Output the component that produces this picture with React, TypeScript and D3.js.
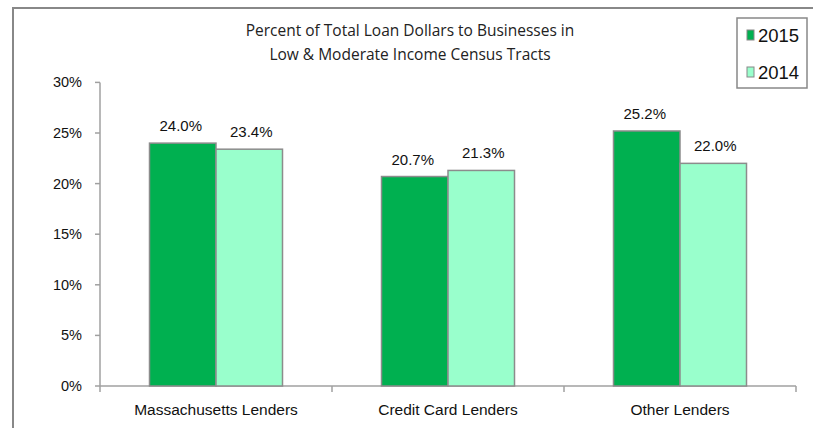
import React from "react";
import * as d3 from "d3";

const categories = ["Massachusetts Lenders", "Credit Card Lenders", "Other Lenders"];
const seriesNames = ["2015", "2014"];
const values2015 = [24.0, 20.7, 25.2];
const values2014 = [23.4, 21.3, 22.0];
const yTicks = [0, 5, 10, 15, 20, 25, 30];
const titleLines = [
  "Percent of Total Loan Dollars to Businesses in",
  "Low & Moderate Income Census Tracts",
];
const colors = ["#00B050", "#99FFCC"];

export default function App() {
  const W = 813, H = 428;
  const left = 100, right = 796, top = 82.4, bottom = 386;
  const x = d3.scaleBand<string>().domain(categories).range([left, right]).paddingInner(0).paddingOuter(0);
  const y = d3.scaleLinear().domain([0, 30]).range([bottom, top]);
  const groupW = 133;
  const xs = d3.scaleBand<string>().domain(seriesNames).range([0, groupW]).padding(0);
  const series = [values2015, values2014];
  const font = "'Liberation Sans', Arial, sans-serif";
  const axisColor = "#a0a0a0";
  const boundaries = [...categories.map((c) => x(c)!), right];

  return (
    <svg width={W} height={H} style={{ position: "absolute", left: 0, top: 0 }}>
      <rect width={W} height={H} fill="#fff" />
      {/* frame */}
      <path d={`M13,${H} L13,8 L${W},8`} fill="none" stroke="#888" strokeWidth={2} />
      {/* title */}
      {titleLines.map((t, i) => (
        <text key={i} x={410} y={35.5 + i * 24} textAnchor="middle" fontFamily="'Open Sans', sans-serif" fontSize={15.5} fill="#222">
          {t}
        </text>
      ))}
      {/* y axis */}
      <line x1={left} x2={left} y1={y(30)} y2={bottom} stroke={axisColor} strokeWidth={1.5} />
      {yTicks.map((t) => (
        <g key={t}>
          <line x1={left - 5} x2={left} y1={y(t)} y2={y(t)} stroke={axisColor} strokeWidth={1.5} />
          <text x={left - 18} y={y(t)} dy="0.35em" textAnchor="end" fontFamily={font} fontSize={14.5} fill="#111">
            {t}%
          </text>
        </g>
      ))}
      {/* x axis */}
      <line x1={left} x2={right} y1={bottom} y2={bottom} stroke={axisColor} strokeWidth={1.5} />
      {boundaries.map((b, i) => (
        <line key={i} x1={b} x2={b} y1={bottom} y2={bottom + 6} stroke={axisColor} strokeWidth={1.5} />
      ))}
      {categories.map((c) => (
        <text key={c} x={x(c)! + x.bandwidth() / 2} y={415} textAnchor="middle" fontFamily={font} fontSize={15.5} fill="#111">
          {c}
        </text>
      ))}
      {/* bars */}
      {categories.map((c, ci) => {
        const gx = x(c)! + x.bandwidth() / 2 - groupW / 2;
        return series.map((vals, si) => {
          const bx = gx + xs(seriesNames[si])!;
          const v = vals[ci];
          return (
            <g key={`${c}-${si}`}>
              <rect x={bx} y={y(v)} width={xs.bandwidth()} height={bottom - y(v)} fill={colors[si]} stroke="#8c8c8c" strokeWidth={1.5} />
              <text x={bx + xs.bandwidth() / 2 + (si === 0 ? -2 : 2)} y={y(v) - 12} textAnchor="middle" fontFamily={font} fontSize={15} fill="#111">
                {v.toFixed(1)}%
              </text>
            </g>
          );
        });
      })}
      {/* legend */}
      <rect x={737} y={18} width={70} height={70} fill="#fff" stroke="#888" strokeWidth={1.5} />
      {seriesNames.map((s, i) => (
        <g key={s}>
          <rect x={747} y={30 + i * 37} width={7} height={10} fill={colors[i]} stroke="#888" strokeWidth={1} />
          <text x={758} y={35 + i * 37} dy="0.36em" fontFamily={font} fontSize={18.5} fill="#111">
            {s}
          </text>
        </g>
      ))}
    </svg>
  );
}
